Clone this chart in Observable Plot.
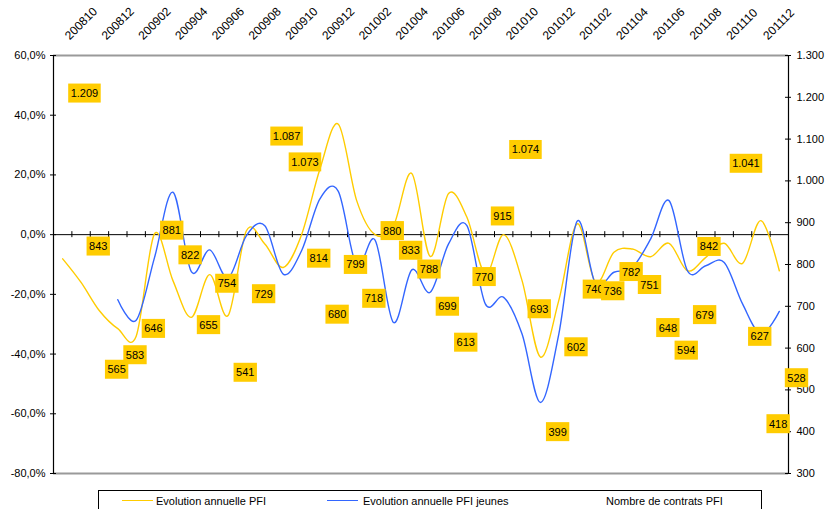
<!DOCTYPE html>
<html><head><meta charset="utf-8">
<script src="https://cdn.jsdelivr.net/npm/d3@7"></script>
<script src="https://cdn.jsdelivr.net/npm/@observablehq/plot@0.6"></script>
<style>
body{margin:0;background:#fff;font-family:"Liberation Sans",Arial,sans-serif;}
#wrap{position:relative;width:827px;height:509px;overflow:hidden;background:#fff;}
#legend{position:absolute;left:98px;top:490px;width:664px;height:40px;border:1px solid #000;box-sizing:border-box;font-size:11px;color:#000;}
#legend .it{position:absolute;top:4px;white-space:nowrap;line-height:12px;}
#legend .sw{position:absolute;top:9px;width:31px;height:1.3px;}
</style>
</head><body>
<div id="wrap"><div id="chart"></div>
<div id="legend">
  <span class="sw" style="left:23px;background:#FFCC00"></span><span class="it" style="left:57px">Evolution annuelle PFI</span>
  <span class="sw" style="left:228px;background:#3366FF"></span><span class="it" style="left:264px">Evolution annuelle PFI jeunes</span>
  <span class="it" style="left:507px">Nombre de contrats PFI</span>
</div></div>
<script>
const months = ["200810","200811","200812",
  "200901","200902","200903","200904","200905","200906","200907","200908","200909","200910","200911","200912",
  "201001","201002","201003","201004","201005","201006","201007","201008","201009","201010","201011","201012",
  "201101","201102","201103","201104","201105","201106","201107","201108","201109","201110","201111","201112",
  "201201"];
// Evolution annuelle PFI (%)
const pfi = [-8.1,-16,-25.5,-31.5,-34,0.3,-15.4,-27.7,-13.4,-27.1,1.3,-3.1,-11,0,22,37,11.4,0,3,20.5,
  -7.3,13.8,5.8,-13.2,0,-15.4,-41,-22,3.6,-16,-5.9,-4.8,-7.4,-2.9,-12.1,-7.6,-2.9,-9.6,4.7,-12.1];
// Evolution annuelle PFI jeunes (%)
const pfiJeunes = [null,null,null,-21.8,-28.7,-7.6,14.2,-12.4,-5.1,-14.5,-0.3,3,-13.2,-5.4,12,14.5,-10.4,-1.8,-29.4,-11.8,
  -19.3,-3.1,3,-23.2,-21,-33.3,-56.2,-33.3,4.5,-16.5,-12.6,-11,-1.4,11.4,-12.1,-10.4,-9.3,-23.2,-33.3,-25.7];
// Nombre de contrats PFI (right axis)
const contrats = [1209,843,565,583,646,881,822,655,754,541,729,1087,1073,814,680,799,718,880,833,788,
  699,613,770,915,1074,693,399,602,740,736,782,751,648,594,679,842,1041,627,418,528];
const leftTicks = [-80,-60,-40,-20,0,20,40,60];
const rightTicks = [300,400,500,600,700,800,900,1000,1100,1200,1300];
// manual label nudges (pixels), as in the original chart
const labelNudge = {"200812": [0, 7], "200909": [0, -8], "200910": [0, 12], "201109": [-14, 0]};

const rMin = 300, rMax = 1300, lMin = -80, lMax = 60;
const toY = c => lMin + (c - rMin) * (lMax - lMin) / (rMax - rMin);
const fromY = v => rMin + (v - lMin) * (rMax - rMin) / (lMax - lMin);
const fmtCount = d3.formatLocale({decimal: ",", thousands: ".", grouping: [3], currency: ["", "€"]}).format(",d");
const fmtPct = v => v.toFixed(1).replace(".", ",") + "%";
const idx = months.map((m, i) => i);
const labelIdx = idx.filter(i => i % 2 === 0);
const n = months.length;
const boundaries = [-0.5, ...idx.map(i => i + 0.5)];

const chart = Plot.plot({
  width: 827, height: 490,
  marginLeft: 53, marginRight: 39, marginTop: 55, marginBottom: 17,
  style: {fontFamily: "'Liberation Sans', Arial, sans-serif", fontSize: "11px", background: "#fff", color: "#000", overflow: "visible"},
  x: {type: "linear", domain: [-0.5, n - 0.5], axis: null},
  y: {domain: [lMin, lMax], axis: null},
  marks: [
    Plot.ruleY([lMax, lMin], {stroke: "#9a9a9a", strokeWidth: 2}),
    Plot.ruleY([0], {stroke: "#000", strokeWidth: 1}),
    Plot.ruleX(boundaries, {x: d => d, y1: 0, y2: 0, insetTop: -3, insetBottom: -3, stroke: "#000"}),
    Plot.ruleX([-0.5, n - 0.5], {stroke: "#000", strokeWidth: 1.2}),
    Plot.ruleY(leftTicks, {y: d => d, x1: -0.5, x2: -0.5, insetLeft: -3, insetRight: -3, stroke: "#000"}),
    Plot.ruleY(rightTicks, {y: d => toY(d), x1: n - 0.5, x2: n - 0.5, insetLeft: -3, insetRight: -3, stroke: "#000"}),
    Plot.axisY({anchor: "left", ticks: leftTicks, tickSize: 0, tickPadding: 8, tickFormat: fmtPct, fontSize: 11}),
    Plot.axisY({anchor: "right", ticks: rightTicks.map(toY), tickSize: 0, tickPadding: 8, tickFormat: v => fmtCount(Math.round(fromY(v))), fontSize: 11}),
    Plot.text(labelIdx, {x: i => i, text: i => months[i], frameAnchor: "top", rotate: -45, textAnchor: "start", lineAnchor: "bottom", dx: 7, dy: -15, fontSize: 12}),
    Plot.line(idx, {x: i => i, y: i => pfi[i], stroke: "#FFCC00", strokeWidth: 1.4, curve: "cardinal"}),
    Plot.line(idx, {x: i => i, y: i => pfiJeunes[i], stroke: "#3366FF", strokeWidth: 1.4, curve: "cardinal"}),
    Plot.text(idx, {x: i => i, y: i => toY(contrats[i]), text: i => fmtCount(contrats[i]), textAnchor: "start", dx: 8, fill: "#000", fontSize: 11})
  ]
});
document.getElementById("chart").appendChild(chart);
const groups = chart.querySelectorAll('g[aria-label="text"]');
const g = groups[groups.length - 1];
if (g) {
  const texts = Array.from(g.querySelectorAll("text"));
  texts.forEach((t, i) => {
    const b = t.getBBox();
    const r = document.createElementNS("http://www.w3.org/2000/svg", "rect");
    r.setAttribute("x", b.x - 2.5);
    r.setAttribute("width", b.width + 5);
    r.setAttribute("y", b.y + b.height / 2 - 9.5);
    r.setAttribute("height", 19);
    r.setAttribute("fill", "#FFCC00");
    const wrapG = document.createElementNS("http://www.w3.org/2000/svg", "g");
    const nudge = labelNudge[months[i]];
    if (nudge) wrapG.setAttribute("transform", `translate(${nudge[0]},${nudge[1]})`);
    const tr = t.getAttribute("transform");
    if (tr) r.setAttribute("transform", tr);
    t.parentNode.insertBefore(wrapG, t);
    wrapG.appendChild(r);
    wrapG.appendChild(t);
  });
}
</script>
</body></html>
